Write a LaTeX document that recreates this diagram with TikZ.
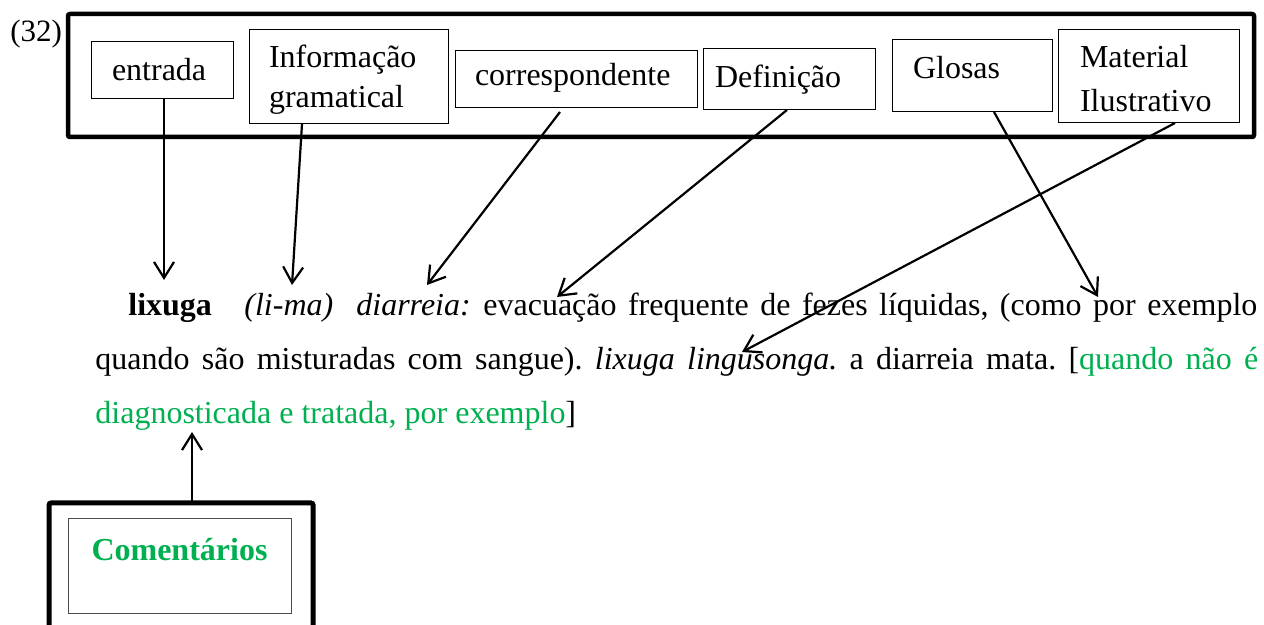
\documentclass[tikz,border=0pt]{standalone}
\usepackage{fontspec}
\setmainfont{Liberation Serif}
\usepackage{xcolor}
\usetikzlibrary{arrows.meta}
\definecolor{notegreen}{RGB}{0,176,80}
\frenchspacing

\begin{document}
\begin{tikzpicture}[x=0.5pt, y=-0.5pt, font=\fontsize{16}{19}\selectfont]
    \useasboundingbox (0,0) rectangle (1264,625);

    \tikzstyle{frame} = [draw, line width=2.25pt, rounded corners=1pt, anchor=north west, inner sep=0pt, outer sep=0pt]
    \tikzstyle{field} = [draw, line width=0.5pt, anchor=north west, inner ysep=0pt, outer sep=0pt, align=left]
    \tikzstyle{textline} = [anchor=base west, inner sep=0pt]
    \tikzstyle{pointer} = [line width=1.1pt, -{Straight Barb[length=8pt,width=10pt]}]

    \node [frame, minimum width=593pt, minimum height=61.5pt] (legend) at (68,14) {};
    \node [textline, font=\fontsize{15.5}{18}\selectfont] (num) at (10,42) {(32)};

    \node [field, inner xsep=10.5pt, text width=50pt, text height=19.5pt, text depth=9pt] (entrada) at (91,42) {entrada};
    \node [field, inner xsep=10pt, text width=79.5pt, text height=19pt, text depth=28pt,
      font=\fontsize{16}{20}\selectfont] (infgram) at (249,30) {Informação\\gramatical};
    \node [field, inner xsep=10pt, text width=101pt, text height=17.5pt, text depth=11pt] (corresp) at (455,51) {correspondente};
    \node [field, inner xsep=6pt, text width=74pt, text height=19.5pt, text depth=11pt] (definicao) at (703,49) {Definição};
    \node [field, inner xsep=10.5pt, text width=59pt, text height=19.5pt, text depth=16.5pt] (glosas) at (892,40) {Glosas};
    \node [field, inner xsep=11pt, text width=68.5pt, text height=19pt, text depth=27.5pt,
      font=\fontsize{16}{22}\selectfont] (material) at (1058,30) {Material\\Ilustrativo};

    \node [textline, font=\fontsize{16}{19}\selectfont\bfseries] (lixuga) at (128,316) {lixuga};
    \node [textline, font=\fontsize{16}{19}\selectfont\itshape] (classe) at (244,316) {(li-ma)};
    \node [textline, font=\fontsize{16}{19}\selectfont\itshape] (traducao) at (356,316) {diarreia:};
    \node [textline] (linha1) at (483,316) {\makebox[387pt][s]{evacuação frequente de fezes líquidas, (como por exemplo}};
    \node [textline] (linha2) at (95,370) {\makebox[581.5pt][s]{quando são misturadas com sangue). \textit{lixuga lingusonga.} a diarreia mata. [\textcolor{notegreen}{quando não é}}};
    \node [textline] (linha3) at (95,424) {\textcolor{notegreen}{diagnosticada e tratada, por exemplo}]};

    \node [frame, line width=2.5pt, minimum width=132pt, minimum height=80pt] (notebox) at (49,503) {};
    \node [field, draw=black!70, inner xsep=0pt, text width=111.5pt, align=center, text height=20.5pt, text depth=26.5pt,
      font=\fontsize{16}{19}\selectfont\bfseries, text=notegreen] (comentarios) at (68,519) {Comentários};

    \coordinate (entrada-tip) at (164,280);
    \coordinate (infgram-tip) at (292,285);
    \coordinate (corresp-tip) at (427,285);
    \coordinate (definicao-tip) at (557,297);
    \coordinate (glosas-tip) at (1098,297);
    \coordinate (material-tip) at (742,352);
    \coordinate (comentarios-tip) at (192,432);

    \draw [pointer] ([xshift=36.5pt]entrada.south west) -- (entrada-tip);
    \draw [pointer] ([xshift=26.5pt]infgram.south west) -- (infgram-tip);
    \draw [pointer] ([xshift=52.5pt, yshift=-2pt]corresp.south west) -- (corresp-tip);
    \draw [pointer] ([xshift=42pt]definicao.south west) -- (definicao-tip);
    \draw [pointer] ([xshift=51pt]glosas.south west) -- (glosas-tip);
    \draw [pointer] ([xshift=58.5pt]material.south west) -- (material-tip);
    \draw [pointer] ([xshift=5.5pt]notebox.north) -- (comentarios-tip);
\end{tikzpicture}
\end{document}
